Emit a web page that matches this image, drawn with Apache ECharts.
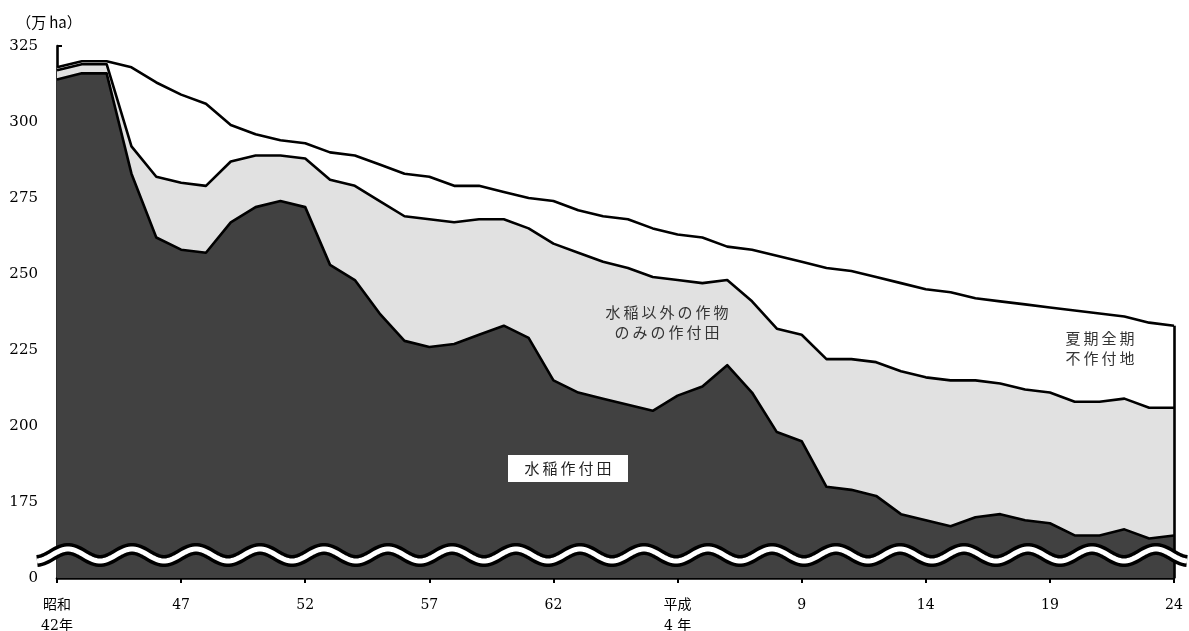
<!DOCTYPE html>
<html>
<head>
<meta charset="utf-8">
<script src="https://cdn.jsdelivr.net/npm/echarts@6/dist/echarts.min.js"></script>
<style>html,body{margin:0;padding:0;background:#fff}#c{width:1189px;height:631px}</style>
</head>
<body>
<div id="c"></div>
<script>
// Years: 昭和42年 (1967) … 平成24年 (2012)
const categories = ['昭和42','43','44','45','46','47','48','49','50','51','52','53','54','55','56','57','58','59','60','61','62','63','平成元','2','3','4','5','6','7','8','9','10','11','12','13','14','15','16','17','18','19','20','21','22','23','24'];
const tickLabels = ['昭和\n42年','47','52','57','62','平成\n4 年','9','14','19','24'];
// 万ha
const riceArea   = [314,316,316,283,262,258,257,267,272,274,272,253,248,237,228,226,227,230,233,229,215,211,209,207,205,210,213,220,211,198,195,180,179,177,171,169,167,170,171,169,168,164,164,166,163,164];
const otherCrops = [3,3,3,9,20,22,22,20,17,15,16,28,31,37,41,42,40,38,35,36,45,46,45,45,44,38,34,28,30,34,35,42,43,44,47,47,48,45,43,43,43,44,44,43,43,42];
const fallowLand = [1,1,1,26,31,29,27,12,7,5,5,9,10,12,14,14,12,11,9,10,14,14,15,16,16,15,15,11,17,24,24,30,29,28,29,29,29,27,27,28,28,30,29,27,28,27];
const yTicks = [150,175,200,225,250,275,300,325];
const seriesNames = ['水稲作付田','水稲以外の作物のみの作付田','夏期全期不作付地'];

const chart = echarts.init(document.getElementById('c'), null, {renderer:'canvas'});
const last = categories.length - 1;
const lastTotal = riceArea[last] + otherCrops[last] + fallowLand[last];
const lineW = 2.6;
const serifFont = "'DejaVu Serif','Noto Sans CJK JP',serif";

function mkSeries(name, data, fill, extra) {
  return Object.assign({
    name, type:'line', stack:'total', data,
    symbol:'none', smooth:false,
    lineStyle:{color:'#000', width:lineW, join:'round'},
    areaStyle:{color:fill, opacity:1},
    silent:true, animation:false
  }, extra||{});
}

// decorative wave (axis break)
function wavePoints() {
  const pts = [];
  for (let x = 37; x <= 1188; x += 2) {
    pts.push([x, 555 - 6 * Math.cos((x - 68) / 64 * 2 * Math.PI)]);
  }
  return pts;
}
const wp = wavePoints();

const option = {
  animation:false,
  grid:{left:57, right:15, top:46, bottom:53, containLabel:false, outerBoundsMode:'none'},
  xAxis:{
    type:'category', data:categories, boundaryGap:false,
    axisLine:{lineStyle:{color:'#000', width:lineW}},
    axisTick:{show:true, interval:(i)=>i%5===0, length:5, lineStyle:{color:'#000', width:2}},
    axisLabel:{
      interval:(i)=>i%5===0,
      formatter:(v,i)=>tickLabels[i/5],
      color:'#000', fontFamily:serifFont, fontSize:14, lineHeight:21, margin:17
    },
    splitLine:{show:false}
  },
  yAxis:{
    type:'value', min:yTicks[0], max:yTicks[yTicks.length-1], interval:25,
    axisLine:{show:true, lineStyle:{color:'#000', width:lineW}},
    axisTick:{show:true, inside:true, length:5, lineStyle:{color:'#000', width:2}},
    axisLabel:{
      formatter:(v)=> v===yTicks[0] ? '0' : String(v),
      color:'#000', fontFamily:serifFont, fontSize:15, margin:19
    },
    splitLine:{show:false}
  },
  series:[
    mkSeries(seriesNames[0], riceArea, '#414141'),
    mkSeries(seriesNames[1], otherCrops, '#e1e1e1'),
    mkSeries(seriesNames[2], fallowLand, '#ffffff', {
      markLine:{
        silent:true, symbol:['none','none'], label:{show:false},
        lineStyle:{color:'#000', width:lineW, type:'solid'},
        data:[[{coord:[categories[last], yTicks[0]]},{coord:[categories[last], lastTotal]}]]
      }
    })
  ],
  graphic:[
    {type:'polyline', shape:{points:wp}, style:{stroke:'#000', lineWidth:12, fill:null}, z:100, silent:true},
    {type:'polyline', shape:{points:wp}, style:{stroke:'#fff', lineWidth:5, fill:null}, z:101, silent:true},
    {type:'text', x:49, y:22, z:102, style:{text:'（万\u2009ha）', font:"15px 'Noto Sans CJK JP'", fill:'#000', align:'center', verticalAlign:'middle'}},
    {type:'rect', shape:{x:508, y:455, width:120, height:27}, style:{fill:'#fff'}, z:102},
    {type:'text', x:568, y:468, z:103, style:{text:'水\u2009稲\u2009作\u2009付\u2009田', font:"15px 'Noto Sans CJK JP'", fill:'#222', align:'center', verticalAlign:'middle'}},
    {type:'text', x:667, y:322, z:103, style:{text:'水\u2009稲\u2009以\u2009外\u2009の\u2009作\u2009物\nの\u2009み\u2009の\u2009作\u2009付\u2009田', font:"15px 'Noto Sans CJK JP'", lineHeight:20, fill:'#333', align:'center', verticalAlign:'middle'}},
    {type:'text', x:1100, y:348, z:103, style:{text:'夏\u2009期\u2009全\u2009期\n不\u2009作\u2009付\u2009地', font:"15px 'Noto Sans CJK JP'", lineHeight:20, fill:'#333', align:'center', verticalAlign:'middle'}}
  ]
};
chart.setOption(option);
</script>
</body>
</html>
